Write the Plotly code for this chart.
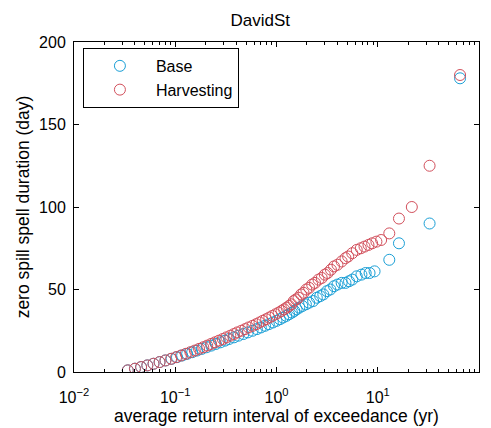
import plotly.graph_objects as go

# Base series (return interval in years, duration in days)
base_x = [0.034, 0.040, 0.046, 0.053, 0.061, 0.070, 0.080, 0.092, 0.104, 0.117,
          0.131, 0.147, 0.164, 0.183, 0.204, 0.227, 0.252, 0.28, 0.31, 0.34,
          0.38, 0.42, 0.47, 0.52, 0.58, 0.64, 0.70, 0.77, 0.84, 0.92,
          1.0, 1.08, 1.16, 1.25, 1.33, 1.42, 1.50, 1.58, 1.68, 1.80,
          1.95, 2.1, 2.3, 2.5, 2.7, 2.9, 3.15, 3.4, 3.7, 4.0,
          4.4, 4.8, 5.2, 5.6, 6.2, 6.9, 7.6, 8.3, 9.3, 13.0,
          16.2, 32.5, 65.0]
base_y = [1, 2, 3, 4, 5, 6, 7, 8, 9, 10,
          11, 12, 13, 14, 15, 16, 17, 18, 19, 20,
          21, 22, 23, 24, 25, 26, 27, 28, 29, 30,
          31, 32, 33, 34, 35, 36, 37, 38, 39, 40,
          41, 42, 43, 45, 46, 47, 49, 50, 52, 53,
          54, 54, 55, 56, 58, 59, 60, 60, 61, 68,
          78, 90, 178]

# Harvesting series
harv_x = [0.034, 0.040, 0.046, 0.053, 0.061, 0.070, 0.080, 0.091, 0.102, 0.114,
          0.127, 0.141, 0.156, 0.172, 0.189, 0.207, 0.226, 0.247, 0.27, 0.295,
          0.32, 0.35, 0.38, 0.41, 0.45, 0.49, 0.53, 0.58, 0.63, 0.68,
          0.73, 0.79, 0.85, 0.91, 0.98, 1.05, 1.12, 1.19, 1.26, 1.33,
          1.40, 1.48, 1.56, 1.65, 1.75, 1.85, 1.97, 2.1, 2.25, 2.4,
          2.6, 2.8, 3.0, 3.2, 3.45, 3.7, 4.0, 4.4, 4.8, 5.1,
          5.6, 6.2, 6.8, 7.4, 8.1, 8.8, 9.7, 10.8, 13.0, 16.2,
          21.7, 32.5, 65.0]
harv_y = [1, 2, 3, 4, 5, 6, 7, 8, 9, 10,
          11, 12, 13, 14, 15, 16, 17, 18, 19, 20,
          21, 22, 23, 24, 25, 26, 27, 28, 29, 30,
          31, 32, 33, 34, 35, 36, 37, 38, 39, 40,
          41, 43, 44, 45, 47, 48, 50, 51, 53, 54,
          56, 57, 59, 60, 62, 64, 65, 67, 69, 70,
          72, 74, 75, 76, 77, 78, 79, 80, 84, 93,
          100, 125, 180]

x_tickvals = [0.01, 0.1, 1, 10, 100]
x_ticktext = ["10<sup>−2</sup>", "10<sup>−1</sup>", "10<sup>0</sup>", "10<sup>1</sup>", "10<sup>2</sup>"]
y_tickvals = [0, 50, 100, 150, 200]

BLUE = "#1a9fd6"
RED = "#d2505c"

fig = go.Figure()
fig.add_trace(go.Scatter(
    x=base_x, y=base_y, mode="markers", name="Base",
    marker=dict(symbol="circle-open", size=11, color=BLUE, line=dict(width=1, color=BLUE)),
))
fig.add_trace(go.Scatter(
    x=harv_x, y=harv_y, mode="markers", name="Harvesting",
    marker=dict(symbol="circle-open", size=11, color=RED, line=dict(width=1, color=RED)),
))

font = "Liberation Sans, Arial, Helvetica, sans-serif"
fig.update_layout(
    width=491, height=428,
    margin=dict(l=74, r=12, t=42, b=56, autoexpand=False),
    paper_bgcolor="white", plot_bgcolor="white",
    font=dict(family=font, size=16, color="black"),
    title=dict(text="DavidSt", x=0.53, xanchor="center", y=0.953, yanchor="middle",
               font=dict(size=17, color="black")),
    showlegend=True,
    legend=dict(x=0.022, y=0.982, xanchor="left", yanchor="top",
                bordercolor="black", borderwidth=1, bgcolor="white",
                font=dict(size=16), itemwidth=62, tracegroupgap=0),
    xaxis=dict(
        type="log", range=[-2, 2], automargin=False,
        tickvals=x_tickvals, ticktext=x_ticktext,
        ticks="inside", ticklen=5, tickcolor="black",
        showline=True, linecolor="black", linewidth=1, mirror="allticks",
        showgrid=False, zeroline=False,
        minor=dict(ticks="inside", ticklen=3, tickcolor="black", dtick="D1", showgrid=False),
        tickfont=dict(size=16), ticklabelstandoff=11,
        title=dict(text="average return interval of exceedance (yr)", font=dict(size=17.5), standoff=0),
    ),
    yaxis=dict(
        range=[0, 200], tickvals=y_tickvals, automargin=False,
        ticks="inside", ticklen=5, tickcolor="black",
        showline=True, linecolor="black", linewidth=1, mirror="allticks",
        showgrid=False, zeroline=False,
        tickfont=dict(size=16), ticklabelstandoff=4,
        title=dict(text="zero spill spell duration (day)", font=dict(size=17.5), standoff=4),
    ),
)

fig.write_html("out.html")
